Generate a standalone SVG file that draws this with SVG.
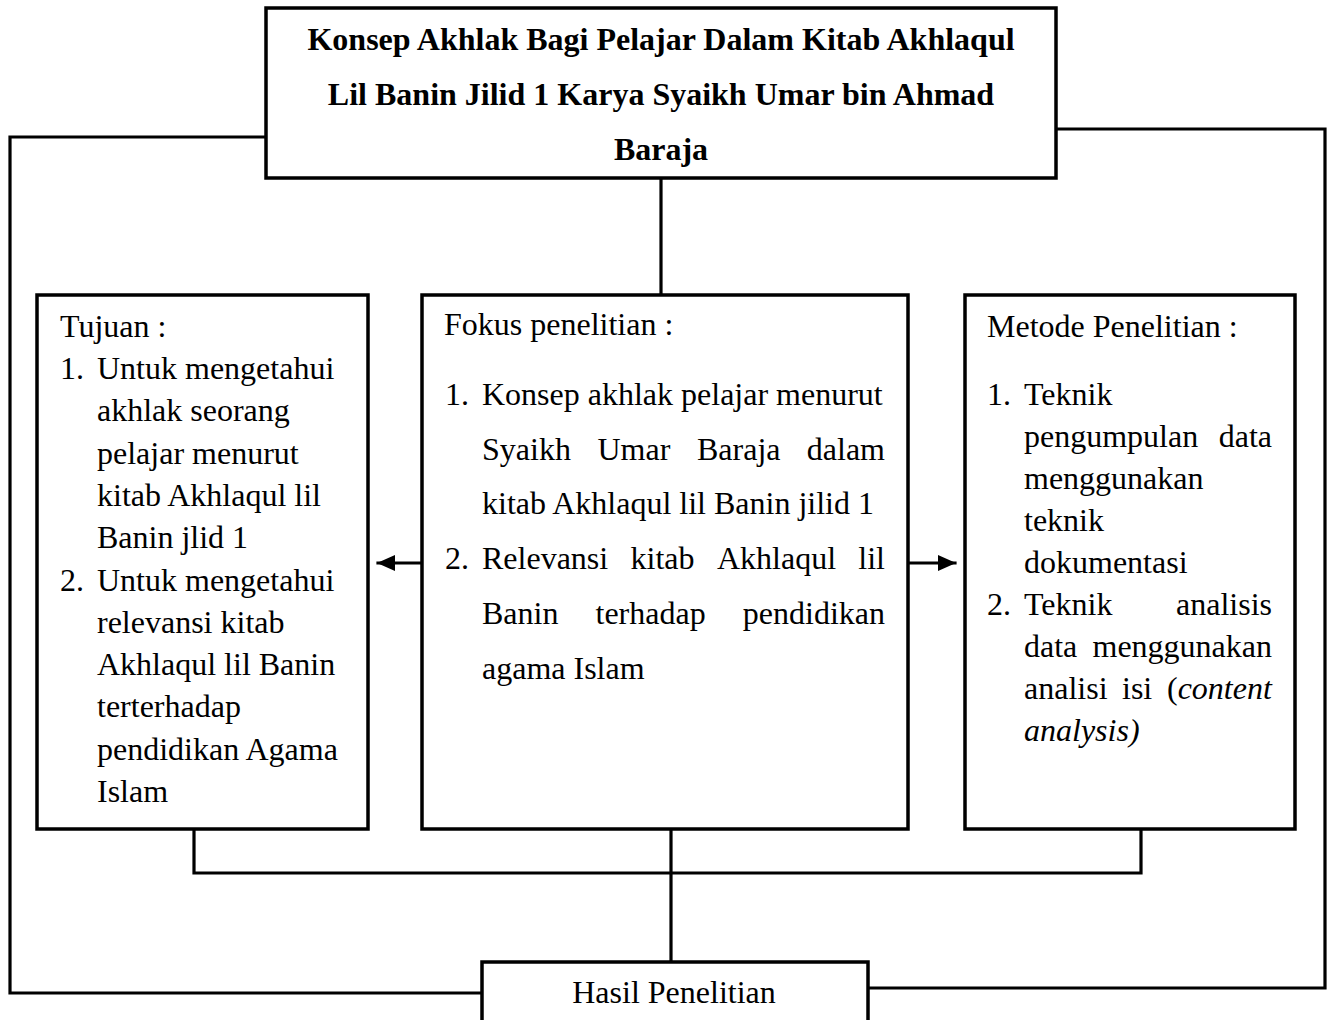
<svg xmlns="http://www.w3.org/2000/svg" width="1330" height="1020" viewBox="0 0 1330 1020">
<style>
.box{fill:#fff;stroke:#000;stroke-width:3.5}
.ln{fill:none;stroke:#000;stroke-width:3.2;stroke-linejoin:miter;stroke-linecap:square}
text{font-family:"Liberation Serif","Times New Roman",serif;font-size:32px;fill:#000}
.b{font-weight:bold}
.i{font-style:italic}
</style>
<defs>
<marker id="ah" markerWidth="20" markerHeight="18" refX="17" refY="8" orient="auto" markerUnits="userSpaceOnUse">
<path d="M0,0 L18,8 L0,16 Z" fill="#000"/>
</marker>
</defs>
<rect width="1330" height="1020" fill="#fff"/>
<g id="connectors">
<polyline class="ln" points="266,137 10,137 10,993 482,993"/>
<polyline class="ln" points="1056,129 1325,129 1325,988 868,988"/>
<line class="ln" x1="661" y1="178" x2="661" y2="295"/>
<polyline class="ln" points="194,829 194,873 1141,873 1141,829"/>
<line class="ln" x1="671" y1="829" x2="671" y2="962"/>
<line class="ln" x1="422" y1="563" x2="378" y2="563" marker-end="url(#ah)"/>
<line class="ln" x1="908" y1="563" x2="955" y2="563" marker-end="url(#ah)"/>
</g>
<g id="title">
<rect class="box" x="266" y="8" width="790" height="170"/>
<text class="b" x="661" y="50" text-anchor="middle">Konsep Akhlak Bagi Pelajar Dalam Kitab Akhlaqul</text>
<text class="b" x="661" y="105" text-anchor="middle">Lil Banin Jilid 1 Karya Syaikh Umar bin Ahmad</text>
<text class="b" x="661" y="160" text-anchor="middle">Baraja</text>
</g>
<g id="tujuan">
<rect class="box" x="37" y="295" width="331" height="534"/>
<text x="60" y="337">Tujuan :</text>
<text x="60" y="379">1.</text>
<text x="97" y="379">Untuk mengetahui</text>
<text x="97" y="421">akhlak seorang</text>
<text x="97" y="464">pelajar menurut</text>
<text x="97" y="506">kitab Akhlaqul lil</text>
<text x="97" y="548">Banin jlid 1</text>
<text x="60" y="591">2.</text>
<text x="97" y="591">Untuk mengetahui</text>
<text x="97" y="633">relevansi kitab</text>
<text x="97" y="675">Akhlaqul lil Banin</text>
<text x="97" y="717">terterhadap</text>
<text x="97" y="760">pendidikan Agama</text>
<text x="97" y="802">Islam</text>
</g>
<g id="fokus">
<rect class="box" x="422" y="295" width="486" height="534"/>
<text x="444" y="335">Fokus penelitian :</text>
<text x="445" y="405">1.</text>
<text x="482" y="405">Konsep akhlak pelajar menurut</text>
<text x="482" y="460">Syaikh</text>
<text x="597.5" y="460">Umar</text>
<text x="697" y="460">Baraja</text>
<text x="885" y="460" text-anchor="end">dalam</text>
<text x="482" y="514">kitab Akhlaqul lil Banin jilid 1</text>
<text x="445" y="569">2.</text>
<text x="482" y="569">Relevansi</text>
<text x="630.5" y="569">kitab</text>
<text x="717" y="569">Akhlaqul</text>
<text x="885" y="569" text-anchor="end">lil</text>
<text x="482" y="624">Banin</text>
<text x="595.5" y="624">terhadap</text>
<text x="885" y="624" text-anchor="end">pendidikan</text>
<text x="482" y="679">agama Islam</text>
</g>
<g id="metode">
<rect class="box" x="965" y="295" width="330" height="534"/>
<text x="987" y="337">Metode Penelitian :</text>
<text x="987" y="405">1.</text>
<text x="1024" y="405">Teknik</text>
<text x="1024" y="447">pengumpulan</text>
<text x="1272" y="447" text-anchor="end">data</text>
<text x="1024" y="489">menggunakan</text>
<text x="1024" y="531">teknik</text>
<text x="1024" y="573">dokumentasi</text>
<text x="987" y="615">2.</text>
<text x="1024" y="615">Teknik</text>
<text x="1272" y="615" text-anchor="end">analisis</text>
<text x="1024" y="657">data</text>
<text x="1272" y="657" text-anchor="end">menggunakan</text>
<text x="1024" y="699">analisi</text>
<text x="1122" y="699">isi</text>
<text x="1167" y="699">(<tspan class="i">content</tspan></text>
<text class="i" x="1024" y="741">analysis)</text>
</g>
<g id="hasil">
<rect class="box" x="482" y="962" width="386" height="70"/>
<text x="674" y="1003" text-anchor="middle">Hasil Penelitian</text>
</g>
</svg>
